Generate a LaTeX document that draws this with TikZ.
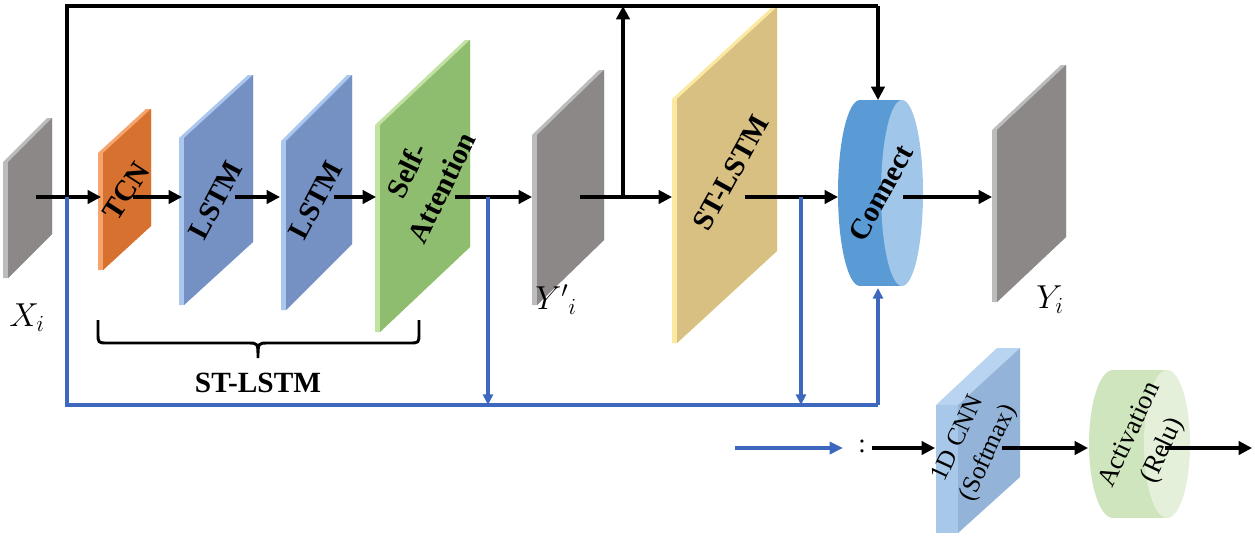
\documentclass[tikz,border=0pt]{standalone}
\usepackage{fontspec}
\setmainfont{Liberation Serif}
\usetikzlibrary{arrows.meta}
\definecolor{grayF}{HTML}{8C8887}
\definecolor{grayS}{HTML}{BDBCBC}
\definecolor{orgF}{HTML}{D6712F}
\definecolor{orgS}{HTML}{F4A46C}
\definecolor{bluF}{HTML}{7591C3}
\definecolor{bluS}{HTML}{ABC7EE}
\definecolor{grnF}{HTML}{8FBD6F}
\definecolor{grnS}{HTML}{C2E2A4}
\definecolor{ylwF}{HTML}{D8BF82}
\definecolor{ylwS}{HTML}{FBE9A2}
\definecolor{conD}{HTML}{5B9BD5}
\definecolor{conL}{HTML}{A0C6E9}
\definecolor{cnnF}{HTML}{A8C8E9}
\definecolor{cnnR}{HTML}{93B3D8}
\definecolor{cnnT}{HTML}{B8D4F0}
\definecolor{actD}{HTML}{CFE5BD}
\definecolor{actL}{HTML}{E4F0DA}
\definecolor{lineblue}{HTML}{3D68BE}
\newcommand\slabshape[7]{%
  \fill[#7] ({#1-5},#4) -- ({#1-5},#3) -- ({#2-5},{#3-#5}) -- (#2,{#3-#5}) -- (#2,{#4-#5}) -- (#1,#4) -- cycle;
  \fill[#6] (#1,#3) -- (#2,{#3-#5}) -- (#2,{#4-#5}) -- (#1,#4) -- cycle;}
\tikzset{
  blk/.style={line width=2.3pt,-{Triangle[length=10pt,width=10pt]}},
  blkline/.style={line width=2.6pt},
  blu/.style={line width=2.3pt,draw=lineblue,-{Triangle[length=8pt,width=7.5pt]}},
  bluline/.style={line width=2.3pt,draw=lineblue},
  lab/.style={font=\fontsize{22}{26}\selectfont\bfseries,align=center},
  leg/.style={font=\fontsize{19}{25}\selectfont,align=center},
  var/.style={font=\fontsize{24}{26}\selectfont}
}
\begin{document}
\begin{tikzpicture}[x=0.75pt,y=-0.75pt]
\useasboundingbox (0,0) rectangle (1255,537);
% slabs
\slabshape{8}{52}{162}{278}{44}{grayF}{grayS}
\slabshape{103}{151}{153}{270}{44}{orgF}{orgS}
\slabshape{184}{253}{138}{305}{63}{bluF}{bluS}
\slabshape{286}{352}{141}{310}{66}{bluF}{bluS}
\slabshape{380}{470}{125}{332}{85}{grnF}{grnS}
\slabshape{537}{604}{135}{305}{65}{grayF}{grayS}
\slabshape{677}{777}{99}{343}{92}{ylwF}{ylwS}
\slabshape{997}{1066}{130}{302}{65}{grayF}{grayS}
% Connect cylinder
\fill[conD] (860,193) ellipse[x radius=22,y radius=93];
\fill[conD] (860,100) rectangle (902,286);
\fill[conL] (902,193) ellipse[x radius=21,y radius=93];
% 1D CNN box
\fill[cnnT] (936,405) -- (997,348) -- (1020,348) -- (958,405) -- cycle;
\fill[cnnR] (958,405) -- (1020,348) -- (1020,477) -- (958,533) -- cycle;
\fill[cnnF] (936,405) rectangle (958,533);
% Activation cylinder
\fill[actD] (1113,444) ellipse[x radius=24,y radius=74];
\fill[actD] (1113,370) rectangle (1167,518);
\fill[actL] (1167,444) ellipse[x radius=23,y radius=74];

% labels
\node[lab,rotate=57] (tcn) at (126,191) {TCN};
\node[lab,rotate=62] (lstm1) at (216,200) {LSTM};
\node[lab,rotate=62] (lstm2) at (316,200) {LSTM};
\node[lab,rotate=64,font=\fontsize{22}{29}\selectfont\bfseries] (sa) at (424,179) {Self-\\Attention};
\node[lab,rotate=61] (stl) at (731,173) {ST-LSTM};
\node[lab,rotate=61] (con) at (881,193) {Connect};
\node[leg,rotate=65] (cnn) at (974,446) {1D CNN\\(Softmax)};
\node[leg,rotate=65,font=\fontsize{20}{27}\selectfont] (act) at (1147,443) {Activation\\(Relu)};
\node[var] (xi) at (27,318) {$X_i$};
\node[var] (ypi) at (556,300) {$Y'{}_i$};
\node[var] (yi) at (1050,300) {$Y_i$};
\node[lab] (stlb) at (258,383) {ST-LSTM};
\node[font=\fontsize{20}{24}\selectfont] (colon) at (862,446) {:};

% connector coordinates
\coordinate (xo) at (36,197);
\coordinate (j1) at (67,197);
\coordinate (tcnin) at (101,197);
\coordinate (tcnout) at (133,197);
\coordinate (l1in) at (182,197);
\coordinate (l1out) at (235,197);
\coordinate (l2in) at (280,197);
\coordinate (l2out) at (334,197);
\coordinate (sain) at (376,197);
\coordinate (saout) at (455,197);
\coordinate (b1) at (488,197);
\coordinate (ypin) at (532,197);
\coordinate (ypout) at (580,197);
\coordinate (up) at (623,197);
\coordinate (stin) at (672,197);
\coordinate (stout) at (745,197);
\coordinate (b2) at (801,197);
\coordinate (conin) at (838,197);
\coordinate (conout) at (903,197);
\coordinate (yiin) at (992,197);
\coordinate (tl) at (67,6);
\coordinate (tu) at (623,6);
\coordinate (tr) at (878,6);
\coordinate (contop) at (878,100);
\coordinate (bl) at (67,405);
\coordinate (bb1) at (488,405);
\coordinate (bb2) at (801,405);
\coordinate (br) at (878,405);
\coordinate (conbot) at (878,288);
\coordinate (lgs) at (735,448);
\coordinate (lge) at (843,448);
\coordinate (cs) at (872,448);
\coordinate (cnnin) at (935,448);
\coordinate (cnnout) at (1002,448);
\coordinate (actin) at (1088,448);
\coordinate (actout) at (1165,448);
\coordinate (outend) at (1252,448);

% black flow
\draw[blk] (xo) -- (tcnin);
\draw[blk] (tcnout) -- (l1in);
\draw[blk] (l1out) -- (l2in);
\draw[blk] (l2out) -- (sain);
\draw[blk] (saout) -- (ypin);
\draw[blk] (ypout) -- (stin);
\draw[blk] (stout) -- (conin);
\draw[blk] (conout) -- (yiin);
\draw[blkline,line join=miter] (j1) -- (tl) -- (tr);
\draw[blk,line join=miter] (tr) -- (contop);
\draw[blk] (up) -- (tu);
% blue
\draw[bluline,line join=miter] (j1) -- (bl) -- (br);
\draw[blu] (br) -- (conbot);
\draw[blu] (b1) -- (bb1);
\draw[blu] (b2) -- (bb2);
% brace
\draw[line width=2.2pt] (98,320) -- (98,333) .. controls (98,343) .. (108,343) -- (248,343) .. controls (258,343) .. (258,358) .. controls (258,343) .. (268,343) -- (409,343) .. controls (419,343) .. (419,333) -- (419,320);
% legend
\draw[blu,line width=2.6pt,-{Triangle[length=10pt,width=9pt]}] (lgs) -- (lge);
\draw[blk] (cs) -- (cnnin);
\draw[blk] (cnnout) -- (actin);
\draw[blk] (actout) -- (outend);
\end{tikzpicture}
\end{document}
